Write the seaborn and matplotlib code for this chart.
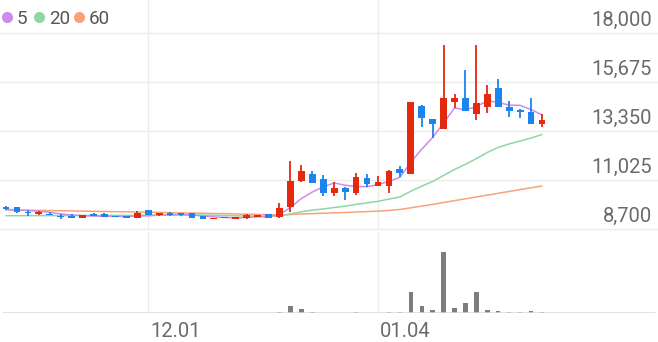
import matplotlib
matplotlib.use("Agg")
import matplotlib.pyplot as plt
from matplotlib.lines import Line2D
import numpy as np
import pandas as pd
import seaborn as sns

# ---------------- data ----------------
opens = [9770, 9745, 9535, 9410, 9440, 9345, 9345, 9220, 9440, 9440,
         9345, 9345, 9220, 9600, 9365, 9460, 9460, 9490, 9330, 9190,
         9285, 9175, 9235, 9300, 9425, 9290, 9745, 10990, 11340, 11070,
         10410, 10675, 10410, 11150, 10755, 10755, 11545, 11310, 14550, 13920,
         13450, 14750, 14940, 14160, 14520, 15420, 14490, 14350, 14250, 13680]
highs = [9820, 9775, 9615, 9580, 9505, 9410, 9410, 9390, 9470, 9490,
         9345, 9345, 9570, 9600, 9490, 9500, 9490, 9490, 9330, 9235,
         9285, 9270, 9425, 9365, 9425, 9930, 11955, 11750, 11465, 11275,
         10930, 10720, 11385, 11310, 11230, 11500, 11705, 14750, 14600, 13920,
         17440, 15110, 16260, 17450, 15550, 15820, 14790, 14410, 14940, 14160]
lows = [9630, 9460, 9345, 9400, 9365, 9205, 9250, 9220, 9320, 9300,
        9285, 9250, 9220, 9370, 9320, 9330, 9345, 9250, 9190, 9190,
        9220, 9175, 9190, 9300, 9250, 9250, 9535, 10930, 10900, 10295,
        10295, 10090, 10325, 10695, 10755, 10440, 11195, 11310, 13570, 13020,
        13450, 14440, 14310, 13890, 14230, 14520, 14030, 14000, 13710, 13570]
closes = [9680, 9505, 9460, 9535, 9365, 9285, 9250, 9390, 9345, 9300,
          9285, 9250, 9460, 9370, 9460, 9395, 9395, 9250, 9190, 9235,
          9220, 9270, 9380, 9365, 9250, 9705, 11005, 11480, 10900, 10440,
          10675, 10470, 11165, 10835, 10945, 11480, 11385, 14750, 13970, 13700,
          14940, 14940, 14310, 14710, 15110, 14520, 14310, 14250, 13710, 13870]
ma5 = [9650, 9620, 9590, 9560, 9510, 9430, 9380, 9345, 9330, 9315,
       9315, 9310, 9330, 9340, 9370, 9390, 9415, 9375, 9335, 9290,
       9260, 9235, 9260, 9295, 9300, 9395, 9740, 10160, 10470, 10710,
       10900, 10790, 10730, 10720, 10820, 10980, 11160, 11880, 12500, 13060,
       13740, 14460, 14370, 14520, 14800, 14720, 14590, 14580, 14380, 14130]
ma20 = [9345, 9345, 9345, 9348, 9350, 9352, 9354, 9356, 9358, 9360,
        9362, 9364, 9366, 9368, 9370, 9372, 9372, 9372, 9371, 9370,
        9347, 9336, 9332, 9323, 9317, 9338, 9426, 9530, 9608, 9665,
        9735, 9796, 9881, 9954, 10028, 10133, 10232, 10507, 10746, 10969,
        11255, 11539, 11785, 12053, 12346, 12587, 12752, 12890, 13031, 13202]
ma60 = [9620, 9612, 9604, 9596, 9588, 9580, 9572, 9563, 9554, 9545,
        9536, 9527, 9518, 9509, 9500, 9490, 9480, 9470, 9460, 9450,
        9440, 9428, 9416, 9404, 9392, 9380, 9400, 9425, 9445, 9462,
        9480, 9498, 9520, 9540, 9562, 9595, 9640, 9720, 9800, 9885,
        9970, 10060, 10145, 10235, 10320, 10410, 10495, 10585, 10670, 10755]
volumes = [3000, 2500, 2000, 3000, 2000, 2500, 2000, 3000, 2000, 2500,
           2000, 2000, 3000, 3000, 2000, 2000, 2000, 2500, 2000, 2000,
           2000, 2000, 2500, 2000, 2500, 10000, 66000, 43000, 7000, 4000,
           4000, 3000, 10000, 5000, 4000, 13000, 13000, 207000, 70000, 30000,
           610000, 50000, 103000, 207000, 30000, 20000, 13000, 10000, 17000, 7000]
price_ticks = [8700, 11025, 13350, 15675, 18000]
date_positions = [13, 34]
date_labels = ["12.01", "01.04"]
ma_labels = ["5", "20", "60"]

# ---------------- style ----------------
RED = "#e5290f"
BLUE = "#1b84ee"
MA_COLORS = ["#cc8ce8", "#8fd7a2", "#f7a37a"]
GRID = "#ececec"
TXT = "#6a6a6a"

sns.set_theme(style="white")
plt.rcParams["font.family"] = ["Roboto", "DejaVu Sans"]

W, H = 658, 342
fig = plt.figure(figsize=(W / 100, H / 100), dpi=100)
ax = fig.add_axes([0, (H - 229.3) / H, 1, 229.3 / H])
axv = fig.add_axes([0, (H - 313) / H, 1, 81 / H], sharex=ax)

idx = np.arange(len(closes))
df = pd.DataFrame({"i": idx, "open": opens, "high": highs, "low": lows,
                   "close": closes, "ma5": ma5, "ma20": ma20, "ma60": ma60,
                   "vol": volumes})

# gridlines
for t in price_ticks:
    ax.axhline(t, color=GRID, lw=1.0, zorder=0, clip_on=False)
for p in date_positions:
    ax.axvline(p, color=GRID, lw=1.0, zorder=0)
    axv.axvline(p, color=GRID, lw=1.0, zorder=0)

# moving averages
for col, c in zip(["ma60", "ma20", "ma5"], MA_COLORS[::-1]):
    sns.lineplot(data=df, x="i", y=col, ax=ax, color=c, lw=1.1, zorder=2)

# candles
up = df["close"] >= df["open"]
colors = np.where(up, RED, BLUE)
bottoms = np.minimum(df["open"], df["close"])
heights = np.maximum(np.abs(df["close"] - df["open"]), 45)
ax.vlines(df["i"], df["low"], df["high"], colors=colors, lw=1.3, zorder=3)
ax.bar(df["i"], heights, bottom=bottoms, width=0.62, color=colors,
       zorder=4, linewidth=0)

# volume
axv.bar(df["i"], df["vol"], width=0.4, color="#7d7d7d", linewidth=0, zorder=3)
axv.axhline(0, color="#d8d8d8", lw=1.1, zorder=4, xmin=0.004, xmax=0.996)

ax.set_xlim(-0.55, 59.6)
ax.set_ylim(8700, 19580)
axv.set_ylim(0, 810000)

for a in (ax, axv):
    a.set_xticks([])
    a.set_yticks([])
    a.set_xlabel("")
    a.set_ylabel("")
    for s in a.spines.values():
        s.set_visible(False)
    a.patch.set_alpha(0)

# price labels
for t in price_ticks:
    ax.annotate(f"{t:,}", xy=(652 / W, t), xycoords=("axes fraction", "data"),
                xytext=(0, 5.0), textcoords="offset points", ha="right",
                va="baseline", fontsize=14.5, color=TXT)

# date labels
for p, lab in zip(date_positions, date_labels):
    axv.annotate(lab, xy=(p, 0), xycoords="data", xytext=(1.5, -17),
                 textcoords="offset points", ha="left", va="baseline",
                 fontsize=14.5, color=TXT, annotation_clip=False)

# legend
dot_x = [7, 39, 79]
txt_x = [16.5, 49, 89]
for dx, tx, c, lab in zip(dot_x, txt_x, MA_COLORS, ma_labels):
    fig.add_artist(Line2D([dx / W], [1 - 16.5 / H], marker="o", markersize=7,
                          color=c, lw=0, transform=fig.transFigure))
    fig.text(tx / W, 1 - 23.5 / H, lab, ha="left", va="baseline",
             fontsize=13.5, color="#555555")

fig.savefig("out.png", dpi=100)
